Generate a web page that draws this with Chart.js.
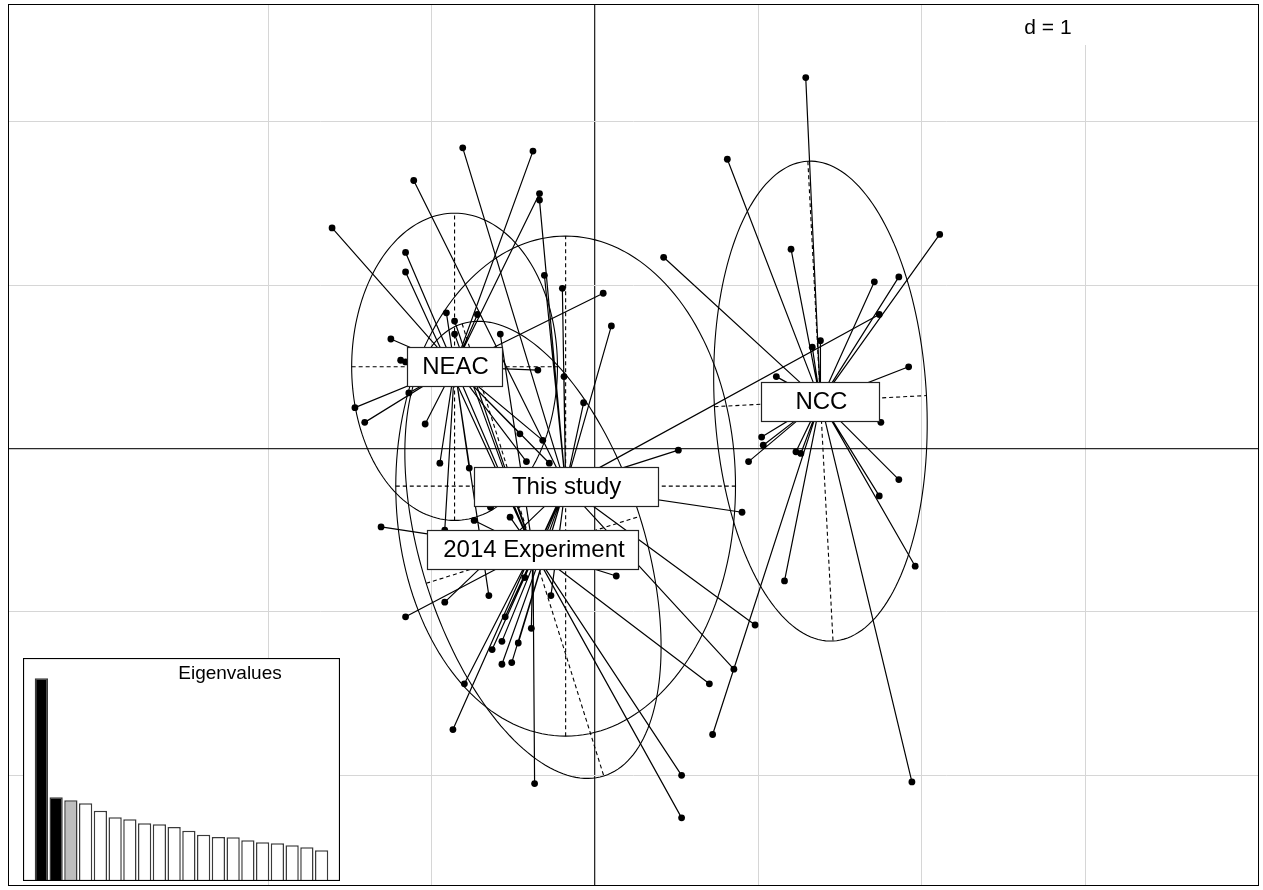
<!DOCTYPE html>
<html>
<head>
<meta charset="utf-8">
<script src="https://cdn.jsdelivr.net/npm/chart.js@4.4.1/dist/chart.umd.min.js"></script>
<style>
  html, body { margin: 0; padding: 0; background: #fff; }
  #wrap { position: relative; width: 1263px; height: 890px; }
  #main { position: absolute; left: 0; top: 0; }
  #eig { position: absolute; left: 23px; top: 658px; }
</style>
</head>
<body>
<div id="wrap">
  <canvas id="main" width="1263" height="890"></canvas>
  <canvas id="eig" width="317" height="223"></canvas>
</div>
<script>
// ---- groups and their centroids (discriminant space, axes 1 and 2) ----
const groupNames = ['NEAC', 'NCC', 'This study', '2014 Experiment'];
const centroidX = [-0.86, 1.38, -0.18, -0.38];
const centroidY = [0.50, 0.29, -0.23, -0.62];

// inertia ellipses: semi-axis along the first direction, semi-axis across it, direction angle (deg)
const ellipseA = [0.63, 1.47, 1.04, 1.45];
const ellipseB = [0.94, 0.65, 1.53, 0.685];
const ellipseAngle = [0, -87, 0, -72.6];

// ---- individual scores ----
const neacX = [-0.38, -0.34, -1.61, 0.05, -0.91, -0.72, -1.25, -1.19, -1.16, -0.35, -1.47,
               -1.41, -1.14, -1.04, -0.46, -0.32, -0.95, -0.77, -0.42, -0.28, -0.92, -0.65];
const neacY = [1.82, 1.56, 1.35, 0.95, 0.83, 0.82, 0.67, 0.54, 0.53, 0.48, 0.25,
               0.16, 0.34, 0.15, 0.09, 0.05, -0.09, -0.12, -0.08, -0.09, -0.50, -0.90];

const nccX = [1.29, 0.81, 0.42, 1.20, 1.71, 1.86, 2.11, 1.33, 1.38, 1.11, 1.92, 1.75,
              1.02, 1.03, 0.94, 1.23, 1.26, 1.86, 1.74, 1.96, 1.16, 0.72, 1.94];
const nccY = [2.27, 1.77, 1.17, 1.22, 1.02, 1.05, 1.31, 0.62, 0.66, 0.44, 0.50, 0.16,
              0.07, 0.02, -0.08, -0.02, -0.03, -0.19, -0.29, -0.72, -0.81, -1.75, -2.04];

const studyX = [-0.81, -1.11, -0.34, -0.31, -0.20, 0.10, -0.19, -0.07, 1.74, 0.51, 0.90,
                0.98, 0.85, -0.92, -0.27, -0.64, -0.63, -0.57, -0.47, -0.57, -0.51, -0.55];
const studyY = [1.84, 1.64, 1.52, 1.06, 0.98, 0.75, 0.44, 0.28, 0.82, -0.01, -0.39,
                -1.08, -1.35, -0.94, -0.90, -0.36, -1.23, -1.18, -1.19, -1.32, -1.31, -1.03];

const expX = [-1.16, -1.16, -0.86, -0.86, -0.58, -0.52, -0.74, -1.31, 0.13,
              -1.16, -0.43, -0.39, -0.37, 0.70, 0.53, 0.53, -0.80, -0.87];
const expY = [1.20, 1.08, 0.78, 0.70, 0.70, -0.42, -0.44, -0.48, -0.78,
              -1.03, -0.79, -1.10, -2.05, -1.44, -2.00, -2.26, -1.44, -1.72];

// grid positions (d = 1)
const xGridTicks = [-2, -1, 0, 1, 2, 3];
const yGridTicks = [-2, -1, 0, 1, 2];
const gridLabel = 'd = 1';

// eigenvalues of the discriminant analysis
const eigenvalues = [20.27, 8.37, 8.07, 7.77, 7.03, 6.37, 6.17, 5.77, 5.67, 5.40,
                     5.03, 4.63, 4.40, 4.37, 4.07, 3.87, 3.77, 3.57, 3.37, 3.07];
const eigTitle = 'Eigenvalues';

// ---- build datasets ----
const groupX = [neacX, nccX, studyX, expX];
const groupY = [neacY, nccY, studyY, expY];

const pointData = [];
groupX.forEach((xs, g) => xs.forEach((x, i) => pointData.push({ x: x, y: groupY[g][i] })));

const starDatasets = groupX.map((xs, g) => {
  const data = [];
  xs.forEach((x, i) => {
    data.push({ x: centroidX[g], y: centroidY[g] });
    data.push({ x: x, y: groupY[g][i] });
    data.push({ x: x, y: null });
  });
  return {
    data: data, showLine: true, spanGaps: false, pointRadius: 0,
    borderColor: '#000', borderWidth: 1.2, order: 2
  };
});

const LABEL_FONT = '24px "Liberation Sans", Arial, Helvetica, sans-serif';
const labelBoxW = [95, 118, 184, 211];
const labelBoxH = 39;

// ellipses and their dashed axes, drawn under the stars
const ellipsePlugin = {
  id: 'ellipses',
  beforeDatasetsDraw(chart) {
    const { ctx, chartArea: ca, scales: { x: sx, y: sy } } = chart;
    ctx.save();
    ctx.beginPath();
    ctx.rect(ca.left, ca.top, ca.right - ca.left, ca.bottom - ca.top);
    ctx.clip();
    ctx.strokeStyle = '#000';
    ctx.lineWidth = 1.1;
    groupNames.forEach((_, g) => {
      const cx = centroidX[g], cy = centroidY[g];
      const th = ellipseAngle[g] * Math.PI / 180;
      const ux = Math.cos(th), uy = Math.sin(th);
      const vx = -Math.sin(th), vy = Math.cos(th);
      const a = ellipseA[g], b = ellipseB[g];
      ctx.setLineDash([]);
      ctx.beginPath();
      for (let k = 0; k <= 180; k++) {
        const t = k / 180 * 2 * Math.PI;
        const px = sx.getPixelForValue(cx + a * Math.cos(t) * ux + b * Math.sin(t) * vx);
        const py = sy.getPixelForValue(cy + a * Math.cos(t) * uy + b * Math.sin(t) * vy);
        if (k === 0) ctx.moveTo(px, py); else ctx.lineTo(px, py);
      }
      ctx.closePath();
      ctx.stroke();
      ctx.setLineDash([4, 3]);
      ctx.beginPath();
      ctx.moveTo(sx.getPixelForValue(cx - a * ux), sy.getPixelForValue(cy - a * uy));
      ctx.lineTo(sx.getPixelForValue(cx + a * ux), sy.getPixelForValue(cy + a * uy));
      ctx.moveTo(sx.getPixelForValue(cx - b * vx), sy.getPixelForValue(cy - b * vy));
      ctx.lineTo(sx.getPixelForValue(cx + b * vx), sy.getPixelForValue(cy + b * vy));
      ctx.stroke();
    });
    ctx.restore();
  }
};

// group labels, grid scale label and frame
const labelPlugin = {
  id: 'labels',
  afterDatasetsDraw(chart) {
    const { ctx, chartArea: ca, scales: { x: sx, y: sy } } = chart;
    ctx.save();
    ctx.font = LABEL_FONT;
    ctx.textAlign = 'center';
    ctx.textBaseline = 'middle';
    groupNames.forEach((name, g) => {
      const px = sx.getPixelForValue(centroidX[g]);
      const py = sy.getPixelForValue(centroidY[g]);
      const w = labelBoxW[g], h = labelBoxH;
      const l = Math.round(px - w / 2) + 0.5, t = Math.round(py - h / 2) + 0.5;
      ctx.fillStyle = '#fff';
      ctx.fillRect(l, t, w, h);
      ctx.strokeStyle = '#222';
      ctx.lineWidth = 1.2;
      ctx.strokeRect(l, t, w, h);
      ctx.fillStyle = '#000';
      ctx.fillText(name, px + 1, py + 1);
    });
    // scale label in the top right corner
    ctx.fillStyle = '#fff';
    ctx.fillRect(1008, ca.top + 1, 88, 40);
    ctx.fillStyle = '#000';
    ctx.font = '21px "Liberation Sans", Arial, Helvetica, sans-serif';
    ctx.textBaseline = 'alphabetic';
    ctx.fillText(gridLabel, 1048, 34);
    // frame
    ctx.strokeStyle = '#000';
    ctx.lineWidth = 1;
    ctx.strokeRect(ca.left + 0.5, ca.top + 0.5, ca.right - ca.left - 1, ca.bottom - ca.top - 1);
    ctx.restore();
  }
};

const gridColor = (c) => (c.tick && c.tick.value === 0) ? '#2a2a2a' : '#d6d6d6';
const gridWidth = (c) => (c.tick && c.tick.value === 0) ? 1.3 : 1;

new Chart(document.getElementById('main'), {
  type: 'scatter',
  data: {
    datasets: [
      { data: pointData, pointRadius: 3.4, pointBackgroundColor: '#000', pointBorderWidth: 0,
        showLine: false, order: 1 },
      ...starDatasets
    ]
  },
  options: {
    responsive: false,
    animation: false,
    events: [],
    layout: { padding: { left: 8, top: 4, right: 2, bottom: 3 } },
    plugins: { legend: { display: false }, tooltip: { enabled: false } },
    scales: {
      x: {
        type: 'linear', min: -3.594, max: 4.065,
        afterBuildTicks: (axis) => { axis.ticks = xGridTicks.map(v => ({ value: v })); },
        ticks: { display: false },
        border: { display: false },
        grid: { drawTicks: false, color: gridColor, lineWidth: gridWidth }
      },
      y: {
        type: 'linear', min: -2.677, max: 2.720,
        afterBuildTicks: (axis) => { axis.ticks = yGridTicks.map(v => ({ value: v })); },
        ticks: { display: false },
        border: { display: false },
        grid: { drawTicks: false, color: gridColor, lineWidth: gridWidth }
      }
    }
  },
  plugins: [ellipsePlugin, labelPlugin]
});

// ---- eigenvalue inset ----
const nKept = 2;
const eigFill = eigenvalues.map((_, i) => i < nKept ? '#000' : (i === nKept ? '#bebebe' : '#fff'));

const insetPlugin = {
  id: 'inset',
  beforeDraw(chart) {
    const ctx = chart.ctx;
    ctx.save();
    ctx.fillStyle = '#fff';
    ctx.fillRect(0, 0, chart.width, chart.height);
    ctx.restore();
  },
  afterDraw(chart) {
    const ctx = chart.ctx;
    ctx.save();
    ctx.strokeStyle = '#000';
    ctx.lineWidth = 1.2;
    ctx.strokeRect(0.5, 0.5, chart.width - 1, chart.height - 1);
    ctx.fillStyle = '#000';
    ctx.font = '19px "Liberation Sans", Arial, Helvetica, sans-serif';
    ctx.textAlign = 'center';
    ctx.textBaseline = 'alphabetic';
    ctx.fillText(eigTitle, 207, 21);
    ctx.restore();
  }
};

new Chart(document.getElementById('eig'), {
  type: 'bar',
  data: {
    labels: eigenvalues.map((_, i) => String(i + 1)),
    datasets: [{
      data: eigenvalues,
      backgroundColor: eigFill,
      borderColor: '#3a3a3a',
      borderWidth: 1.5,
      categoryPercentage: 1,
      barPercentage: 0.9
    }]
  },
  options: {
    responsive: false,
    animation: false,
    events: [],
    layout: { padding: { left: 11, right: 11, top: 0, bottom: 0 } },
    plugins: { legend: { display: false }, tooltip: { enabled: false } },
    scales: {
      x: { display: false },
      y: { display: false, min: 0, max: Math.max(...eigenvalues) * 1.1 }
    }
  },
  plugins: [insetPlugin]
});
</script>
</body>
</html>
